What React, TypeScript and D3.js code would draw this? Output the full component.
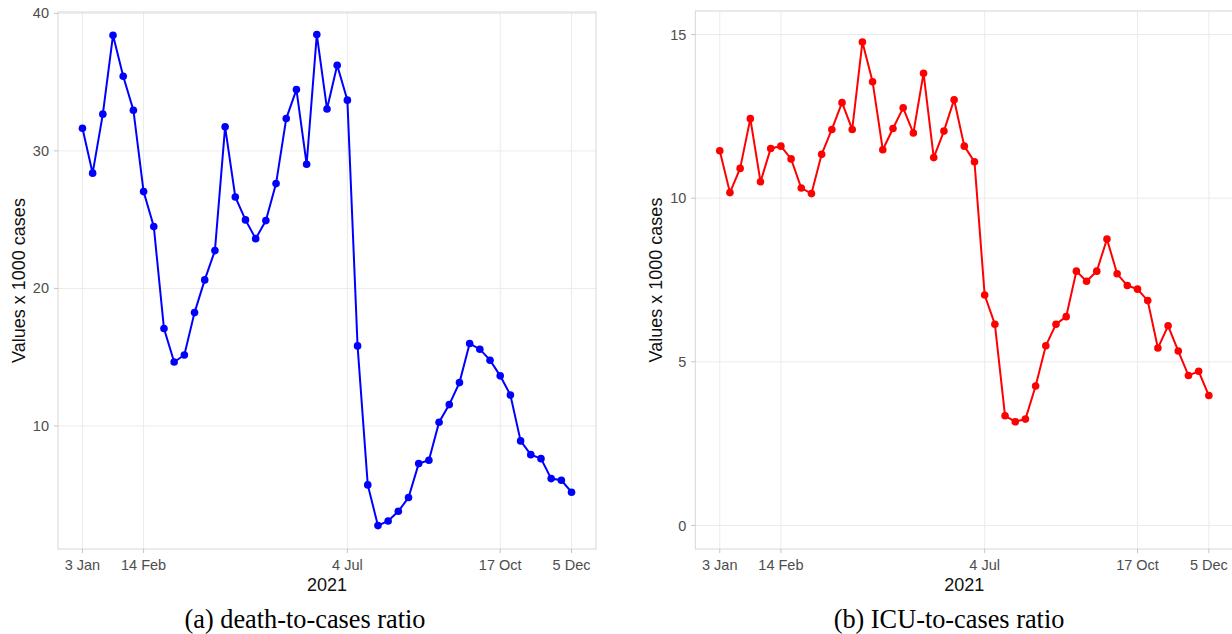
import React from "react";
import * as d3 from "d3";

const weekDates: string[] = [
  "2021-01-03","2021-01-10","2021-01-17","2021-01-24","2021-01-31",
  "2021-02-07","2021-02-14","2021-02-21","2021-02-28",
  "2021-03-07","2021-03-14","2021-03-21","2021-03-28",
  "2021-04-04","2021-04-11","2021-04-18","2021-04-25",
  "2021-05-02","2021-05-09","2021-05-16","2021-05-23","2021-05-30",
  "2021-06-06","2021-06-13","2021-06-20","2021-06-27",
  "2021-07-04","2021-07-11","2021-07-18","2021-07-25",
  "2021-08-01","2021-08-08","2021-08-15","2021-08-22","2021-08-29",
  "2021-09-05","2021-09-12","2021-09-19","2021-09-26",
  "2021-10-03","2021-10-10","2021-10-17","2021-10-24","2021-10-31",
  "2021-11-07","2021-11-14","2021-11-21","2021-11-28",
  "2021-12-05",
];

const deathValues: number[] = [
  31.65, 28.38, 32.67, 38.41, 35.43, 32.96, 27.04, 24.5, 17.08, 14.65,
  15.16, 18.24, 20.62, 22.75, 31.75, 26.65, 24.98, 23.62, 24.93, 27.62,
  32.35, 34.46, 29.03, 38.46, 33.05, 36.23, 33.69, 15.82, 5.71, 2.75,
  3.09, 3.79, 4.79, 7.26, 7.5, 10.27, 11.55, 13.15, 15.99, 15.58,
  14.78, 13.64, 12.25, 8.91, 7.91, 7.62, 6.17, 6.05, 5.18,
];

const icuValues: number[] = [
  11.45, 10.17, 10.91, 12.43, 10.5, 11.52, 11.59, 11.2, 10.31, 10.14,
  11.34, 12.1, 12.92, 12.1, 14.77, 13.56, 11.48, 12.13, 12.76, 11.99,
  13.82, 11.24, 12.05, 13.01, 11.59, 11.11, 7.04, 6.15, 3.35, 3.17,
  3.25, 4.26, 5.49, 6.15, 6.38, 7.77, 7.46, 7.77, 8.75, 7.69,
  7.33, 7.22, 6.87, 5.42, 6.1, 5.33, 4.58, 4.71, 3.97,
];

const xTickDates: string[] = ["2021-01-03", "2021-02-14", "2021-07-04", "2021-10-17", "2021-12-05"];
const xTickLabels: string[] = ["3 Jan", "14 Feb", "4 Jul", "17 Oct", "5 Dec"];

const deathTicks: number[] = [10, 20, 30, 40];
const icuTicks: number[] = [0, 5, 10, 15];

const xTitle = "2021";
const yTitle = "Values x 1000 cases";
const captions: string[] = ["(a) death-to-cases ratio", "(b) ICU-to-cases ratio"];

const SANS = "'Liberation Sans', Arial, Helvetica, sans-serif";
const SERIF = "'Liberation Serif', 'Times New Roman', serif";

type PanelProps = {
  left: number;
  right: number;
  top: number;
  bottom: number;
  values: number[];
  yDomain: [number, number];
  yTicks: number[];
  color: string;
  caption: string;
  captionX: number;
  titleX: number;
};

const parse = d3.utcParse("%Y-%m-%d");

function Panel(p: PanelProps) {
  const dates = weekDates.map((s) => parse(s) as Date);
  const first = dates[0].getTime();
  const last = dates[dates.length - 1].getTime();
  const pad = (last - first) * 0.05;
  const x = d3
    .scaleUtc()
    .domain([new Date(first - pad), new Date(last + pad)])
    .range([p.left, p.right]);
  const y = d3.scaleLinear().domain(p.yDomain).range([p.bottom, p.top]);

  const line = d3
    .line<number>()
    .x((_, i) => x(dates[i]))
    .y((d) => y(d));

  const tickDates = xTickDates.map((s) => parse(s) as Date);
  const cy = (p.top + p.bottom) / 2;
  const cx = (p.left + p.right) / 2;

  return (
    <g>
      {p.yTicks.map((t) => (
        <line key={"gy" + t} x1={p.left} x2={p.right} y1={y(t)} y2={y(t)} stroke="#ebebeb" strokeWidth={1} />
      ))}
      {tickDates.map((d, i) => (
        <line key={"gx" + i} x1={x(d)} x2={x(d)} y1={p.top} y2={p.bottom} stroke="#ebebeb" strokeWidth={1} />
      ))}
      <rect x={p.left} y={p.top} width={p.right - p.left} height={p.bottom - p.top} fill="none" stroke="#d6d6d6" strokeWidth={1} />
      {p.yTicks.map((t) => (
        <g key={"ty" + t}>
          <line x1={p.left - 4} x2={p.left} y1={y(t)} y2={y(t)} stroke="#c4c4c4" strokeWidth={1} />
          <text x={p.left - 9} y={y(t)} dy="0.35em" textAnchor="end" fontFamily={SANS} fontSize={14.5} fill="#4d4d4d">
            {t}
          </text>
        </g>
      ))}
      {tickDates.map((d, i) => (
        <g key={"tx" + i}>
          <line x1={x(d)} x2={x(d)} y1={p.bottom} y2={p.bottom + 4} stroke="#c4c4c4" strokeWidth={1} />
          <text x={x(d)} y={p.bottom + 21} textAnchor="middle" fontFamily={SANS} fontSize={14.5} fill="#4d4d4d">
            {xTickLabels[i]}
          </text>
        </g>
      ))}
      <path d={line(p.values) || ""} fill="none" stroke={p.color} strokeWidth={2} />
      {p.values.map((v, i) => (
        <circle key={"pt" + i} cx={x(dates[i])} cy={y(v)} r={3.8} fill={p.color} />
      ))}
      <text x={cx} y={p.bottom + 42} textAnchor="middle" fontFamily={SANS} fontSize={18} fill="#111">
        {xTitle}
      </text>
      <text
        transform={`translate(${p.titleX},${cy}) rotate(-90)`}
        textAnchor="middle"
        dy="0.35em"
        fontFamily={SANS}
        fontSize={18}
        fill="#111"
      >
        {yTitle}
      </text>
      <text x={p.captionX} y={628} textAnchor="middle" fontFamily={SERIF} fontSize={26.3} fill="#000">
        {p.caption}
      </text>
    </g>
  );
}

export default function App() {
  return (
    <svg
      width={1232}
      height={634}
      style={{ position: "absolute", left: 0, top: 0, background: "#fff" }}
    >
      <rect x={0} y={0} width={1232} height={634} fill="#fff" />
      <Panel
        left={58}
        right={596}
        top={12}
        bottom={549}
        values={deathValues}
        yDomain={[1.05, 40.1]}
        yTicks={deathTicks}
        color="#0000ff"
        caption={captions[0]}
        captionX={305}
        titleX={18.5}
      />
      <Panel
        left={695.3}
        right={1233.3}
        top={11}
        bottom={549}
        values={icuValues}
        yDomain={[-0.72, 15.72]}
        yTicks={icuTicks}
        color="#ff0000"
        caption={captions[1]}
        captionX={949}
        titleX={656}
      />
    </svg>
  );
}
